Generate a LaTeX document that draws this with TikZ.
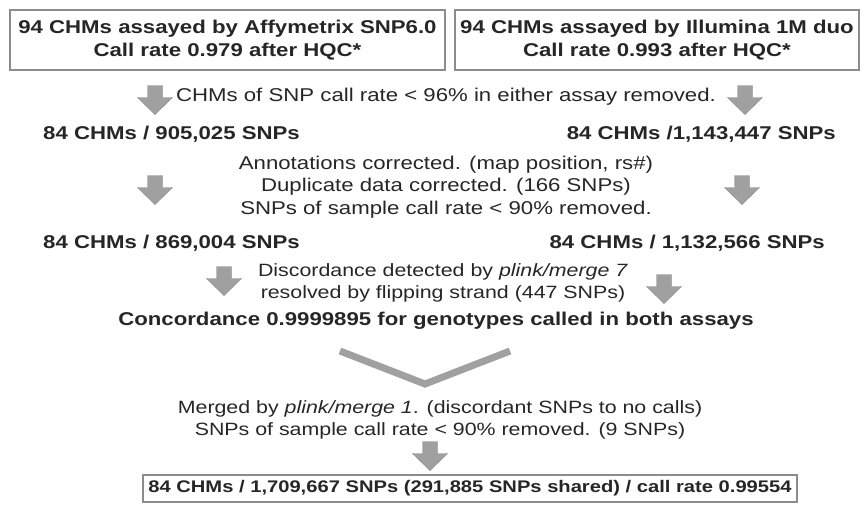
\documentclass[tikz,border=0pt]{standalone}
\usepackage{fontspec}
\setmainfont{Liberation Sans}[FakeStretch=1.2]
\usetikzlibrary{positioning}
\definecolor{boxgray}{HTML}{8C8C8C}
\definecolor{arrowgray}{HTML}{A0A0A0}
\definecolor{inkgray}{HTML}{262626}
\def\grayarrow(#1,#2){\filldraw[arrowstyle, shift={(#1,#2)}] (-7.5,-14.5) -- (7.5,-14.5) -- (7.5,-2.5) -- (17.5,-2.5) -- (0,14.5) -- (-17.5,-2.5) -- (-7.5,-2.5) -- cycle;}

\begin{document}
\begin{tikzpicture}[x=1pt, y=-1pt,
    txt/.style={font=\fontsize{18.5}{22.5}\selectfont, text=inkgray, inner sep=0pt, align=center},
    btxt/.style={txt, font=\fontsize{18.5}{22.5}\selectfont\bfseries},
    box/.style={btxt, draw=boxgray, line width=1.6pt},
    arrowstyle/.style={fill=arrowgray, draw=arrowgray!85!black, line width=0.4pt}]
    \useasboundingbox (0,0) rectangle (862,504);

    %%%%% assays %%%%%
    \node[box, minimum width=435, minimum height=60] (affy) at (227.5,40)
        {94 CHMs assayed by Affymetrix SNP6.0\\Call rate 0.979 after HQC*};
    \node[box, minimum width=404, minimum height=60] (illu) at (657,40)
        {94 CHMs assayed by Illumina 1M duo\\Call rate 0.993 after HQC*};

    \grayarrow(155,100)
    \node[txt] (rmchm) at (446,97) {CHMs of SNP call rate < 96\% in either assay removed.};
    \grayarrow(745,100)

    \node[btxt, anchor=west] (affyA) at (43,134) {84 CHMs / 905,025 SNPs};
    \node[btxt, anchor=east] (illuA) at (836,134) {84 CHMs /1,143,447 SNPs};

    %%%%% cleaning %%%%%
    \grayarrow(155,190)
    \node[txt] (annot) at (446,187) {Annotations corrected. (map position, rs\#)\\
        Duplicate data corrected. (166 SNPs)\\SNPs of sample call rate < 90\% removed.};
    \grayarrow(742,190)

    \node[btxt, anchor=west] (affyB) at (43,243) {84 CHMs / 869,004 SNPs};
    \node[btxt, anchor=east] (illuB) at (825,243) {84 CHMs / 1,132,566 SNPs};

    %%%%% merging %%%%%
    \grayarrow(224,281)
    \node[txt, font=\fontsize{17.8}{21.5}\selectfont] (flip) at (443,283) {Discordance detected by \textit{plink/merge 7}\\
        resolved by flipping strand (447 SNPs)};
    \grayarrow(664,289)

    \node[btxt] (conc) at (436,321) {Concordance 0.9999895 for genotypes called in both assays};

    \draw[arrowgray, line width=7pt, line join=miter] (340,351) -- (425,384) -- (510,351);

    \node[txt, font=\fontsize{17.8}{22.5}\selectfont] (merge) at (440,420) {Merged by \textit{plink/merge 1}. (discordant SNPs to no calls)\\
        SNPs of sample call rate < 90\% removed. (9 SNPs)};
    \grayarrow(430,456)

    \node[box, font=\fontsize{16.8}{20}\selectfont\bfseries, minimum width=654, minimum height=27] (final) at (470,488.5)
        {84 CHMs / 1,709,667 SNPs (291,885 SNPs shared) / call rate 0.99554};
\end{tikzpicture}
\end{document}
